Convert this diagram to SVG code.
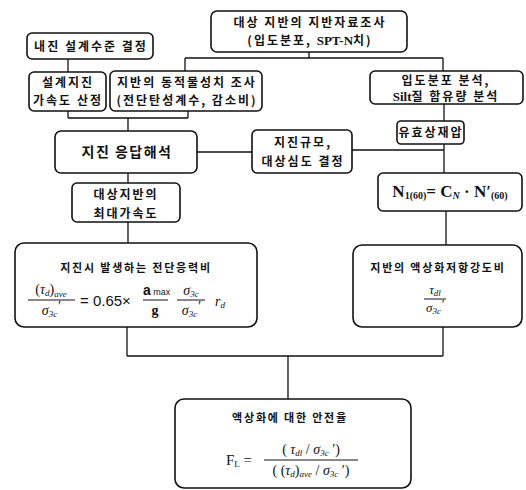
<svg xmlns="http://www.w3.org/2000/svg" width="526" height="490" viewBox="0 0 526 490">
<style>
.box{fill:#fff;stroke:#111;stroke-width:1.6}
.ln{fill:none;stroke:#111;stroke-width:1.3}
.kr{font-family:"Noto Sans CJK KR","Noto Sans",sans-serif;font-weight:700;font-size:12px;fill:#111;text-anchor:middle;letter-spacing:2px}
.ks{font-size:11px;letter-spacing:1.8px}
.big{font-size:14px;letter-spacing:1.5px}
.m{font-family:"Liberation Serif",serif;fill:#111}
.s{font-family:"Liberation Sans",sans-serif;fill:#111}
.fl{stroke:#111;stroke-width:1}
</style>
<rect width="526" height="490" fill="#fff"/>
<g id="connectors">
<path class="ln" d="M309 52V58M185 58H443M185 58V71M443 58V71"/>
<path class="ln" d="M68 59V72"/>
<path class="ln" d="M68 111V118M188 111V118M68 118H188M128 118V131"/>
<path class="ln" d="M197 152H252"/>
<path class="ln" d="M444 104V121M444 144V173M352 150H444"/>
<path class="ln" d="M128 173V183M128 222V243"/>
<path class="ln" d="M446 211V245"/>
<path class="ln" d="M127 327V356M443 327V356M127 356H443M288 356V399"/>
</g>
<g id="n_survey">
<rect class="box" x="211" y="11" width="196" height="41" rx="6"/>
<text class="kr" x="310" y="27">대상 지반의 지반자료조사</text>
<text class="kr" x="310" y="45">(입도분포, <tspan class="m" font-size="13" letter-spacing="0">SPT-N</tspan>치)</text>
</g>
<g id="n_level">
<rect class="box" x="27" y="33" width="126" height="26" rx="5"/>
<text class="kr" x="91" y="51">내진 설계수준 결정</text>
</g>
<g id="n_design">
<rect class="box" x="29" y="72" width="77" height="39" rx="5"/>
<text class="kr" x="68" y="87">설계지진</text>
<text class="kr" x="68" y="105">가속도 산정</text>
</g>
<g id="n_dynamic">
<rect class="box" x="110" y="71" width="152" height="40" rx="5"/>
<text class="kr" x="187" y="87" letter-spacing="1">지반의 동적물성치 조사</text>
<text class="kr" x="187" y="105" letter-spacing="1">(전단탄성계수, 감소비)</text>
</g>
<g id="n_grain">
<rect class="box" x="370" y="71" width="153" height="33" rx="5"/>
<text class="kr" x="446" y="85">입도분포 분석,</text>
<text class="kr" x="446" y="101"><tspan class="m" font-size="13" letter-spacing="0">Silt</tspan>질 함유량 분석</text>
</g>
<g id="n_eff">
<rect class="box" x="397" y="121" width="67" height="23" rx="4"/>
<text class="kr" x="431" y="137">유효상재압</text>
</g>
<g id="n_mag">
<rect class="box" x="252" y="130" width="100" height="43" rx="5"/>
<text class="kr" x="303" y="147">지진규모,</text>
<text class="kr" x="303" y="166">대상심도 결정</text>
</g>
<g id="n_resp">
<rect class="box" x="55" y="131" width="142" height="42" rx="6"/>
<text class="kr big" x="127" y="157">지진 응답해석</text>
</g>
<g id="n_amax">
<rect class="box" x="72" y="183" width="108" height="39" rx="5"/>
<text class="kr" x="126" y="199">대상지반의</text>
<text class="kr" x="126" y="218">최대가속도</text>
</g>
<g id="n_n160">
<rect class="box" x="378" y="173" width="144" height="38" rx="5"/>
<text class="m" x="450" y="197" font-size="17" font-weight="700" text-anchor="middle">N<tspan font-size="10" dy="2">1(60)</tspan><tspan dy="-2">= C</tspan><tspan font-size="10" font-style="italic" dy="2">N</tspan><tspan dy="-2"> · N′</tspan><tspan font-size="10" dy="2">(60)</tspan></text>
</g>
<g id="n_csr">
<rect class="box" x="15" y="243" width="242" height="84" rx="9"/>
<text class="kr ks" x="136" y="272">지진시 발생하는 전단응력비</text>
<text class="m" x="51" y="294" font-size="14" text-anchor="middle">(<tspan font-style="italic">τ</tspan><tspan font-size="9" font-style="italic" dy="2">d</tspan><tspan dy="-2">)</tspan><tspan font-size="9" font-style="italic" dy="3">ave</tspan></text>
<line class="fl" x1="28" y1="300" x2="75" y2="300"/>
<text class="m" x="51" y="315" font-size="14" text-anchor="middle" font-style="italic">σ<tspan font-size="9" dy="2">3c</tspan><tspan dy="-6">′</tspan></text>
<text class="s" x="80" y="306" font-size="15">= 0.65×</text>
<text class="s" x="143" y="295" font-size="14" font-weight="700">a<tspan font-size="9" font-weight="400"> max</tspan></text>
<line class="fl" x1="143" y1="300" x2="168" y2="300"/>
<text class="m" x="155" y="315" font-size="14" font-weight="700" text-anchor="middle">g</text>
<text class="m" x="191" y="295" font-size="14" font-style="italic" text-anchor="middle">σ<tspan font-size="9" dy="2">3c</tspan></text>
<line class="fl" x1="177" y1="300" x2="205" y2="300"/>
<text class="m" x="191" y="315" font-size="14" font-style="italic" text-anchor="middle">σ<tspan font-size="9" dy="2">3c</tspan><tspan dy="-6">′</tspan></text>
<text class="m" x="215" y="306" font-size="14" font-style="italic">r<tspan font-size="9" dy="2">d</tspan></text>
</g>
<g id="n_crr">
<rect class="box" x="353" y="245" width="169" height="82" rx="9"/>
<text class="kr ks" x="438" y="272">지반의 액상화저항강도비</text>
<text class="m" x="435" y="294" font-size="13" font-style="italic" text-anchor="middle">τ<tspan font-size="9" dy="2">dl</tspan></text>
<line class="fl" x1="424" y1="299" x2="446" y2="299"/>
<text class="m" x="435" y="312" font-size="13" font-style="italic" text-anchor="middle">σ<tspan font-size="9" dy="2">3c</tspan><tspan dy="-6">′</tspan></text>
</g>
<g id="n_fs">
<rect class="box" x="175" y="399" width="236" height="89" rx="9"/>
<text class="kr ks" x="290" y="422">액상화에 대한 안전율</text>
<text class="m" x="226" y="465" font-size="15">F<tspan font-size="9" dy="2">L</tspan><tspan dy="-2"> =</tspan></text>
<text class="m" x="311" y="454" font-size="14" text-anchor="middle">( <tspan font-style="italic">τ</tspan><tspan font-size="9" font-style="italic" dy="2">dl</tspan><tspan dy="-2"> / </tspan><tspan font-style="italic">σ</tspan><tspan font-size="9" font-style="italic" dy="2">3c</tspan><tspan dy="-2"> ′)</tspan></text>
<line class="fl" x1="264" y1="460" x2="358" y2="460"/>
<text class="m" x="311" y="475" font-size="14" text-anchor="middle">( (<tspan font-style="italic">τ</tspan><tspan font-size="9" font-style="italic" dy="2">d</tspan><tspan dy="-2">)</tspan><tspan font-size="9" font-style="italic" dy="2">ave</tspan><tspan dy="-2"> / </tspan><tspan font-style="italic">σ</tspan><tspan font-size="9" font-style="italic" dy="2">3c</tspan><tspan dy="-2"> ′)</tspan></text>
</g>
</svg>
